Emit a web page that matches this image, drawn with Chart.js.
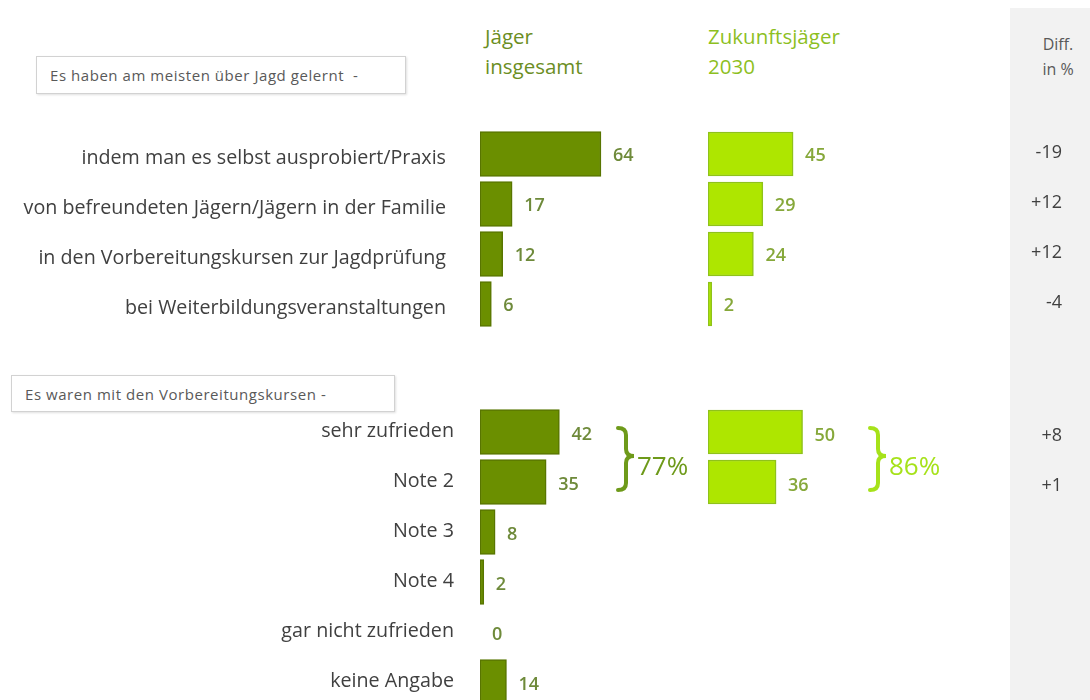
<!DOCTYPE html>
<html lang="de">
<head>
    <meta charset="UTF-8">
    <title>Jagd lernen – Jäger insgesamt vs. Zukunftsjäger 2030</title>
    <script src="https://cdn.jsdelivr.net/npm/chart.js"></script>
    <style>
        body {
            margin: 0;
            width: 1090px;
            height: 700px;
            overflow: hidden;
            background: #fff;
            font-family: "Open Sans", sans-serif;
            position: relative;
        }
        .abs { position: absolute; }
        .diff-panel {
            left: 1010px; top: 8px; width: 80px; height: 692px;
            background: #f2f2f2;
        }
        .box {
            border: 1.5px solid #d2d2d2;
            box-shadow: 1px 1px 2px rgba(0,0,0,0.12);
            font-size: 15px;
            letter-spacing: 0.55px;
            color: #595959;
            box-sizing: border-box;
            padding-left: 13px;
            display: flex;
            align-items: center;
        }
        .head { font-size: 20.5px; line-height: 30px; }
        .diff-head { font-size: 16px; color: #595959; text-align: center; line-height: 25px; }
        canvas { position: absolute; }
    </style>
</head>
<body>
    <div class="abs diff-panel"></div>
    <div class="abs diff-head" style="left:1022px; top:32px; width:72px;">Diff.<br>in %</div>

    <div class="abs head" style="left:485px; top:21px; color:#6b8e23;">Jäger<br>insgesamt</div>
    <div class="abs head" style="left:708px; top:21px; color:#8dbf1f;">Zukunftsjäger<br>2030</div>

    <div class="abs box" style="left:36px; top:56px; width:370px; height:38px;">Es haben am meisten über Jagd gelernt&nbsp;&nbsp;-</div>
    <div class="abs box" style="left:11px; top:375px; width:384px; height:37px;">Es waren mit den Vorbereitungskursen -</div>

    <canvas id="jaeger1" width="700" height="200" style="left:0; top:129px;"></canvas>
    <canvas id="jaeger2" width="700" height="300" style="left:0; top:407px;"></canvas>
    <canvas id="zukunft1" width="382" height="200" style="left:708px; top:129px;"></canvas>
    <canvas id="zukunft2" width="382" height="300" style="left:708px; top:407px;"></canvas>

    <script>
        // section 1: where hunters learned most
        const cats1 = ["indem man es selbst ausprobiert/Praxis", "von befreundeten Jägern/Jägern in der Familie",
                       "in den Vorbereitungskursen zur Jagdprüfung", "bei Weiterbildungsveranstaltungen"];
        const jaeger1 = [64, 17, 12, 6];
        const zukunft1 = [45, 29, 24, 2];
        const diff1 = [-19, 12, 12, -4];

        // section 2: satisfaction with preparation courses
        const cats2 = ["sehr zufrieden", "Note 2", "Note 3", "Note 4", "gar nicht zufrieden", "keine Angabe"];
        const jaeger2 = [42, 35, 8, 2, 0, 14];
        const zukunft2 = [50, 36, null, null, null, null];
        const diff2 = [8, 1, null, null, null, null];

        // top-two box (sehr zufrieden + Note 2)
        const topTwo = [77, 86];

        const darkGreen = "#6b8f00", darkBorder = "#587500", darkText = "#6e8a3a";
        const lightGreen = "#aee600", lightBorder = "#8fc21a", lightText = "#86a83a";

        // category labels, value labels, diff column and braces
        const annotate = {
            id: "annotate",
            afterDatasetsDraw(chart, args, opts) {
                const ctx = chart.ctx;
                const area = chart.chartArea;
                const yScale = chart.scales.y;
                const meta = chart.getDatasetMeta(0);
                const data = chart.data.datasets[0].data;
                ctx.save();
                ctx.textBaseline = "middle";

                if (opts.showLabels) {
                    ctx.font = "19.7px 'Open Sans'";
                    ctx.fillStyle = "#404040";
                    ctx.textAlign = "right";
                    chart.data.labels.forEach((lab, i) => {
                        ctx.fillText(lab, area.left - opts.labelPad, yScale.getPixelForValue(i) + opts.labelShift);
                    });
                }

                ctx.font = "600 18px 'Open Sans'";
                ctx.fillStyle = opts.textColor;
                ctx.textAlign = "left";
                meta.data.forEach((bar, i) => {
                    if (data[i] === null) return;
                    ctx.fillText(data[i], bar.x + 12, bar.y + opts.valueShift);
                });

                if (opts.diffs) {
                    ctx.font = "18px 'Open Sans'";
                    ctx.fillStyle = "#404040";
                    ctx.textAlign = "right";
                    opts.diffs.forEach((d, i) => {
                        if (d === null) return;
                        ctx.fillText(d > 0 ? "+" + d : String(d), chart.width - 28, yScale.getPixelForValue(i) + opts.diffShift);
                    });
                }

                if (opts.brace) {
                    const b = opts.brace;
                    const y0 = yScale.getPixelForValue(0) - 4;
                    const y1 = yScale.getPixelForValue(1) + 8;
                    const ym = (y0 + y1) / 2 - 3;
                    const x = b.x, w = 16, h = w / 2, r = 7;
                    ctx.strokeStyle = b.color;
                    ctx.lineWidth = 4;
                    ctx.lineCap = "round";
                    ctx.beginPath();
                    ctx.moveTo(x, y0);
                    ctx.quadraticCurveTo(x + h, y0, x + h, y0 + r);
                    ctx.lineTo(x + h, ym - r);
                    ctx.quadraticCurveTo(x + h, ym, x + w, ym);
                    ctx.quadraticCurveTo(x + h, ym, x + h, ym + r);
                    ctx.lineTo(x + h, y1 - r);
                    ctx.quadraticCurveTo(x + h, y1, x, y1);
                    ctx.stroke();
                    ctx.fillStyle = b.color;
                    ctx.textAlign = "left";
                    ctx.font = "26px 'Open Sans'";
                    ctx.fillText(b.label + "%", x + w + 3, ym + 12);
                }
                ctx.restore();
            }
        };

        function makeChart(id, labels, values, cfg) {
            new Chart(document.getElementById(id), {
                type: "bar",
                data: {
                    labels: labels,
                    datasets: [{
                        data: values,
                        backgroundColor: cfg.fill,
                        borderColor: cfg.border,
                        borderWidth: 1.5,
                        borderSkipped: false,
                        barThickness: cfg.thick
                    }]
                },
                options: {
                    indexAxis: "y",
                    responsive: false,
                    animation: false,
                    layout: { padding: { left: cfg.left, right: 0, top: 0, bottom: 0 } },
                    scales: {
                        x: { display: false, min: 0, max: cfg.max },
                        y: { display: false }
                    },
                    plugins: {
                        legend: { display: false },
                        tooltip: { enabled: false },
                        annotate: {
                            showLabels: cfg.showLabels,
                            labelPad: cfg.pad || 0,
                            labelShift: cfg.labelShift || 0,
                            valueShift: cfg.valueShift,
                            textColor: cfg.text,
                            diffs: cfg.diffs,
                            diffShift: cfg.diffShift || 0,
                            brace: cfg.brace
                        }
                    }
                },
                plugins: [annotate]
            });
        }

        makeChart("jaeger1", cats1, jaeger1, {
            fill: darkGreen, border: darkBorder, text: darkText, thick: 45, left: 480,
            max: 116.4, showLabels: true, pad: 34, labelShift: 4, valueShift: 2
        });
        makeChart("jaeger2", cats2, jaeger2, {
            fill: darkGreen, border: darkBorder, text: darkText, thick: 45, left: 480,
            max: 116.4, showLabels: true, pad: 26, labelShift: -1, valueShift: 3,
            brace: { x: 618, color: "#6e9a1a", label: topTwo[0] }
        });
        makeChart("zukunft1", cats1, zukunft1, {
            fill: lightGreen, border: lightBorder, text: lightText, thick: 44, left: 0,
            max: 202, showLabels: false, valueShift: 2, diffs: diff1, diffShift: -1
        });
        makeChart("zukunft2", cats2, zukunft2, {
            fill: lightGreen, border: lightBorder, text: lightText, thick: 44, left: 0,
            max: 202, showLabels: false, valueShift: 4, diffs: diff2, diffShift: 4,
            brace: { x: 870 - 708, color: "#a6e21a", label: topTwo[1] }
        });
    </script>
</body>
</html>
